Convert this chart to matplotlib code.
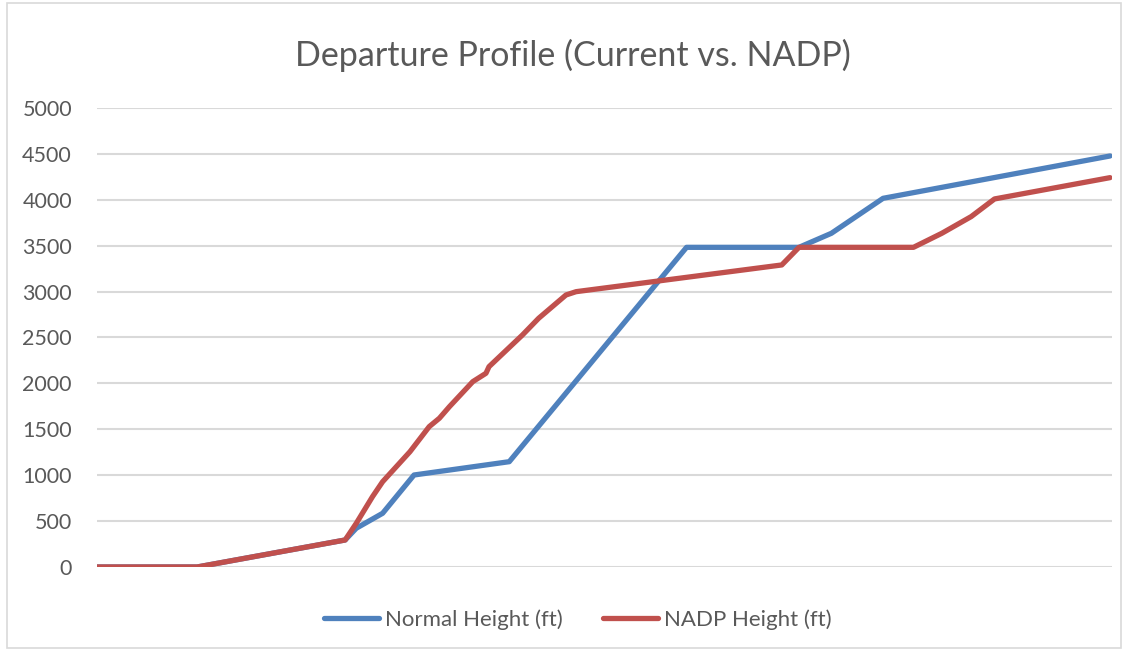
import matplotlib.pyplot as plt
from matplotlib.patches import Rectangle

plt.rcParams["font.family"] = ["Lato", "DejaVu Sans"]

# distance along the departure (no labels on the reference), heights in ft
normal_x = [0, 9.9, 24.5, 25.6, 28.2, 31.3, 40.7, 58.2, 69.3, 72.5, 77.6, 100]
normal_h = [0, 0, 294, 422, 585, 1002, 1147, 3482, 3482, 3635, 4016, 4477]

nadp_x = [0, 9.9, 24.5, 25.6, 27.2, 28.2, 30.9, 32.8, 33.8, 34.8, 37.1, 38.4,
          38.7, 42.0, 43.6, 46.3, 47.3, 67.6, 69.3, 80.6, 83.4, 86.3, 88.6, 100]
nadp_h = [0, 0, 294, 476, 766, 929, 1256, 1529, 1620, 1747, 2019, 2110,
          2182, 2527, 2709, 2963, 2999, 3290, 3482, 3482, 3635, 3817, 4009, 4241]

yticks = list(range(0, 5001, 500))

fig = plt.figure(figsize=(11.26, 6.52), dpi=100)
ax = fig.add_axes([0.0861, 0.1304, 0.9015, 0.704])

ax.plot(normal_x, normal_h, color="#4F81BD", lw=3.8, solid_capstyle="round",
        label="Normal Height (ft)")
ax.plot(nadp_x, nadp_h, color="#C0504D", lw=3.8, solid_capstyle="round",
        label="NADP Height (ft)")

ax.set_xlim(0, 100.2)
ax.set_ylim(0, 5000)
ax.set_yticks(yticks)
ax.set_xticks([])
ax.grid(axis="y", color="#D9D9D9", lw=1.5)
ax.set_axisbelow(True)
for s in ax.spines.values():
    s.set_visible(False)
ax.tick_params(axis="y", length=0, pad=18, labelsize=15.5, labelcolor="#595959")

fig.text(0.5085, 0.915, "Departure Profile (Current vs. NADP)", ha="center",
         va="center", fontsize=24.5, color="#595959")

fig.legend(loc="center", bbox_to_anchor=(0.513, 0.05), ncol=2, frameon=False,
           fontsize=16, labelcolor="#595959", handlelength=2.5,
           handletextpad=0.25, columnspacing=1.8)

fig.patches.append(Rectangle((0.006, 0.006), 0.99, 0.99, transform=fig.transFigure,
                             fill=False, edgecolor="#D9D9D9", lw=1.2))

fig.savefig("out.png", dpi=100)
